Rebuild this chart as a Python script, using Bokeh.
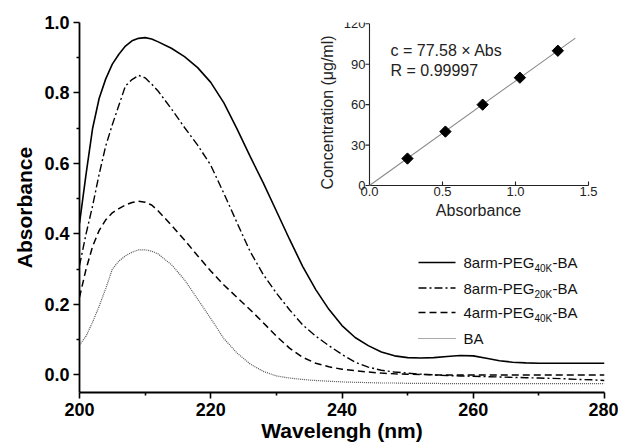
import math
from bokeh.plotting import figure
from bokeh.models import Range1d, FixedTicker, PrintfTickFormatter, Label
from bokeh.core.properties import value
from bokeh.embed import file_html
from bokeh.resources import INLINE

# ---------------- data ----------------
wavelength = [200, 201, 202, 203, 204, 205, 206, 207, 208, 209, 210, 211, 212,
              214, 216, 218, 220, 222, 224, 226, 228, 230, 232, 234, 236, 238,
              240, 242, 244, 246, 248, 250, 252, 254, 256, 258, 260, 262, 264,
              266, 268, 270, 272, 274, 276, 278, 280]

peg8_40k = [0.43, 0.57, 0.70, 0.785, 0.84, 0.882, 0.91, 0.933, 0.948, 0.955, 0.957, 0.953, 0.945,
            0.927, 0.903, 0.872, 0.83, 0.772, 0.698, 0.62, 0.545, 0.465, 0.385, 0.308, 0.242, 0.186,
            0.14, 0.106, 0.083, 0.065, 0.054, 0.049, 0.048, 0.049, 0.052, 0.055, 0.054, 0.047, 0.040,
            0.036, 0.034, 0.033, 0.033, 0.033, 0.033, 0.033, 0.033]

peg8_20k = [0.31, 0.40, 0.48, 0.57, 0.65, 0.71, 0.765, 0.82, 0.838, 0.85, 0.843, 0.825, 0.805,
            0.755, 0.702, 0.652, 0.595, 0.515, 0.432, 0.35, 0.285, 0.232, 0.185, 0.142, 0.11, 0.083,
            0.058, 0.036, 0.022, 0.013, 0.008, 0.005, 0.002, 0.0, -0.002, -0.003, -0.004, -0.005, -0.006,
            -0.007, -0.008, -0.009, -0.010, -0.011, -0.013, -0.014, -0.016]

peg4_40k = [0.22, 0.30, 0.365, 0.41, 0.44, 0.46, 0.472, 0.482, 0.489, 0.493, 0.49, 0.482, 0.465,
            0.425, 0.383, 0.338, 0.295, 0.255, 0.22, 0.185, 0.148, 0.11, 0.076, 0.05, 0.033, 0.023,
            0.016, 0.012, 0.008, 0.005, 0.003, 0.002, 0.001, 0.0, 0.0, 0.0, 0.0, 0.0, 0.0,
            0.0, 0.0, 0.0, 0.0, 0.0, 0.0, 0.0, 0.0]

ba = [0.085, 0.11, 0.15, 0.195, 0.245, 0.30, 0.323, 0.338, 0.348, 0.355, 0.355, 0.351, 0.343,
      0.313, 0.27, 0.215, 0.16, 0.103, 0.062, 0.031, 0.01, -0.003, -0.009, -0.013, -0.016, -0.018,
      -0.02, -0.021, -0.022, -0.023, -0.023, -0.024, -0.024, -0.024, -0.025, -0.025, -0.025, -0.025, -0.025,
      -0.025, -0.025, -0.025, -0.025, -0.025, -0.025, -0.025, -0.025]

x_ticks = [200, 220, 240, 260, 280]
x_minor = [210, 230, 250, 270]
y_ticks = [0.0, 0.2, 0.4, 0.6, 0.8, 1.0]
y_minor = [0.1, 0.3, 0.5, 0.7, 0.9]

legend_main = ["8arm-PEG", "8arm-PEG", "4arm-PEG", "BA"]
legend_sub = ["40K", "20K", "40K", ""]
legend_tail = ["-BA", "-BA", "-BA", ""]

# inset: calibration curve
inset_abs = [0.26, 0.52, 0.775, 1.03, 1.29]
inset_conc = [20, 40, 60, 80, 100]
fit_abs = [0.0, 1.41]
fit_slope = 77.58
inset_xticks = [0.0, 0.5, 1.0, 1.5]
inset_xtick_labels = ["0.0", "0.5", "1.0", "1.5"]
inset_yticks = [0, 30, 60, 90, 120]
inset_ytick_labels = ["0", "30", "60", "90", "120"]

# ---------------- layout ----------------
W, H = 618, 448
BL, BR, BT, BB = 79, 14, 22, 56
FL, FR, FT, FB = BL, W - BR, BT, H - BB  # frame in picture pixels
FONT = "Liberation Sans"

p = figure(width=W, height=H, x_range=Range1d(200, 280), y_range=Range1d(-0.05, 1.0),
           output_backend="svg", toolbar_location=None,
           min_border_left=BL, min_border_right=BR, min_border_top=BT, min_border_bottom=BB)
p.grid.visible = False
p.outline_line_color = None
p.background_fill_color = "white"

# picture-pixel coordinate ranges for annotations inside the frame
p.extra_x_ranges = {"px": Range1d(FL, FR)}
p.extra_y_ranges = {"py": Range1d(FB, FT)}

# inset ranges (origin at picture px (369,185); 146 px per Abs unit; 1.3475 px per ug/ml)
IX0, IY0, IKX, IKY = 369.0, 185.0, 146.0, 1.3475
p.extra_x_ranges["ix"] = Range1d(-(IX0 - FL) / IKX, (FR - IX0) / IKX)
p.extra_y_ranges["iy"] = Range1d(-(FB - IY0) / IKY, (IY0 - FT) / IKY)

for ax in (p.xaxis[0], p.yaxis[0]):
    ax.axis_line_width = 1.8
    ax.major_tick_line_width = 1.6
    ax.minor_tick_line_width = 1.6
    ax.major_tick_out = 6
    ax.major_tick_in = 0
    ax.minor_tick_out = 3
    ax.minor_tick_in = 0
    ax.major_label_text_font = FONT
    ax.major_label_text_font_style = "bold"
    ax.major_label_text_font_size = "18px"
    ax.major_label_text_color = "black"
    ax.axis_line_color = "black"
    ax.major_tick_line_color = "black"
    ax.minor_tick_line_color = "black"
    ax.axis_label_text_font = FONT
    ax.axis_label_text_font_style = "bold"
    ax.axis_label_text_font_size = "21px"
    ax.axis_label_text_color = "black"

p.xaxis.ticker = FixedTicker(ticks=x_ticks, minor_ticks=x_minor)
p.yaxis.ticker = FixedTicker(ticks=y_ticks, minor_ticks=y_minor)
p.yaxis.formatter = PrintfTickFormatter(format="%.1f")
p.xaxis.major_label_standoff = 4
p.yaxis.major_label_standoff = 4
p.xaxis.axis_label = "Wavelengh (nm)"
p.yaxis.axis_label = "Absorbance"
p.xaxis.axis_label_standoff = 0
p.yaxis.axis_label_standoff = 5

# ---------------- spectra ----------------
styles = [
    (peg8_40k, "black", 1.6, "solid"),
    (peg8_20k, "black", 1.4, "8 3 2 3"),
    (peg4_40k, "black", 1.5, "7 4"),
    (ba, "#555555", 1.2, "1 1"),
]
for ys, col, lw, dash in styles:
    p.line(wavelength, ys, line_color=col, line_width=lw, line_dash=dash)

# ---------------- legend ----------------
row_y = [262, 287.5, 312, 338]
for i, (ys, col, lw, dash) in enumerate(styles):
    p.segment(x0=[418], y0=[row_y[i]], x1=[455], y1=[row_y[i]], line_color=col,
              line_width=lw, line_dash=dash, x_range_name="px", y_range_name="py")
    p.add_layout(Label(x=463, y=row_y[i], x_range_name="px", y_range_name="py",
                       text=legend_main[i], text_align="left", text_baseline="middle",
                       text_font=FONT, text_font_size="15px", text_color="#111111"))
    if legend_sub[i]:
        p.add_layout(Label(x=534, y=row_y[i] + 6, x_range_name="px", y_range_name="py",
                           text=legend_sub[i], text_align="left", text_baseline="middle",
                           text_font=FONT, text_font_size="10px", text_color="#111111"))
        p.add_layout(Label(x=552, y=row_y[i], x_range_name="px", y_range_name="py",
                           text=legend_tail[i], text_align="left", text_baseline="middle",
                           text_font=FONT, text_font_size="15px", text_color="#111111"))

# ---------------- inset ----------------
IC = "#222222"
p.line([0, 0], [0, inset_yticks[-1]], line_color=IC, line_width=1.1, x_range_name="ix", y_range_name="iy")
p.line([0, inset_xticks[-1]], [0, 0], line_color=IC, line_width=1.1, x_range_name="ix", y_range_name="iy")
p.ray(x=[0] * len(inset_yticks), y=inset_yticks, length=4, length_units="screen", angle=math.pi,
      line_color=IC, line_width=1.1, x_range_name="ix", y_range_name="iy")
p.ray(x=inset_xticks, y=[0] * len(inset_xticks), length=4, length_units="screen", angle=math.pi / 2,
      line_color=IC, line_width=1.1, x_range_name="ix", y_range_name="iy")
p.text(x=[0] * len(inset_yticks), y=inset_yticks, text=inset_ytick_labels, x_offset=-4,
       text_align="right", text_baseline="middle", text_font=value(FONT), text_font_size="13px",
       text_color=IC, x_range_name="ix", y_range_name="iy")
p.text(x=inset_xticks, y=[0] * len(inset_xticks), text=inset_xtick_labels, y_offset=1,
       text_align="center", text_baseline="top", text_font=value(FONT), text_font_size="13px",
       text_color=IC, x_range_name="ix", y_range_name="iy")

p.line(fit_abs, [fit_slope * a for a in fit_abs], line_color="#8a8a8a", line_width=1.1,
       x_range_name="ix", y_range_name="iy")
p.scatter(inset_abs, inset_conc, marker="square", angle=math.pi / 4, size=8,
          fill_color="black", line_color="black", x_range_name="ix", y_range_name="iy")

p.add_layout(Label(x=478, y=210, x_range_name="px", y_range_name="py", text="Absorbance",
                   text_align="center", text_baseline="middle", text_font=FONT,
                   text_font_size="16px", text_color=IC))
p.add_layout(Label(x=327, y=112, x_range_name="px", y_range_name="py", text="Concentration (\u03bcg/ml)",
                   angle=math.pi / 2, text_align="center", text_baseline="middle", text_font=FONT,
                   text_font_size="16px", text_color=IC))
p.add_layout(Label(x=390, y=50, x_range_name="px", y_range_name="py", text="c = 77.58 \u00d7 Abs",
                   text_align="left", text_baseline="middle", text_font=FONT,
                   text_font_size="16px", text_color=IC))
p.add_layout(Label(x=390, y=70, x_range_name="px", y_range_name="py", text="R = 0.99997",
                   text_align="left", text_baseline="middle", text_font=FONT,
                   text_font_size="16px", text_color=IC))

open("out.html", "w").write(file_html(p, INLINE))
